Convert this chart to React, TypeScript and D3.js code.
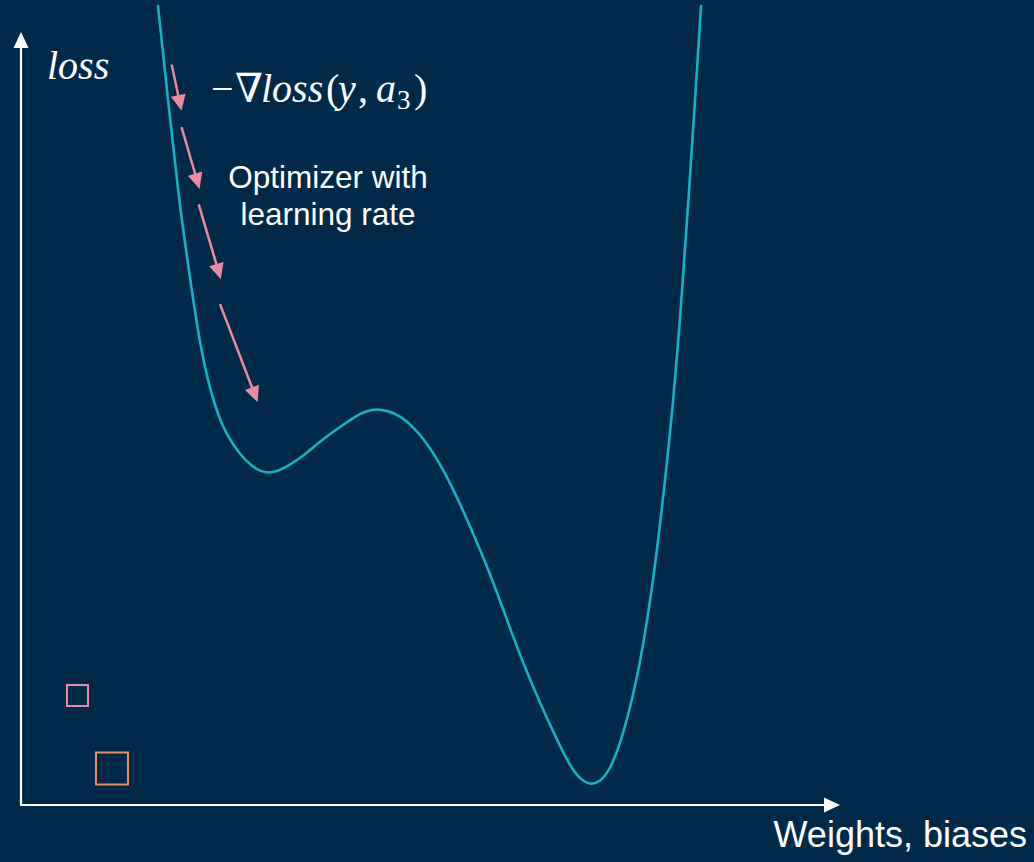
import React from "react";
import * as d3 from "d3";

// Loss landscape curve (weight units 0..100, loss units 0..100)
const curveWeights = [16.73, 17.95, 19.29, 20.15, 21.37, 22.47, 23.81, 25.03, 26.74, 28.33, 29.18, 30.16, 31.26, 32.84, 34.92, 36.87, 38.95, 41.03, 42.25, 43.47, 44.69, 46.28, 48.72, 51.16, 53.24, 55.19, 57.26, 59.34, 61.29, 63.37, 65.45, 67.03, 68.25, 69.48, 70.7, 71.92, 73.5, 75.58, 77.17, 78.39, 79.67, 80.65, 81.5, 82.3, 83.03];
const curveLoss = [103.36, 91.2, 78.27, 71.8, 62.74, 56.27, 51.1, 48.0, 45.28, 43.73, 43.21, 42.95, 43.14, 43.98, 45.54, 47.35, 48.9, 50.45, 51.01, 51.23, 51.01, 50.45, 48.12, 44.24, 39.84, 35.19, 30.01, 23.93, 18.37, 13.2, 8.41, 5.05, 3.36, 2.59, 2.98, 4.53, 8.8, 17.85, 28.72, 39.46, 52.39, 65.33, 78.27, 91.2, 103.36];

// Gradient-descent step arrows: [w0, loss0, w1, loss1]
const stepArrows: [number, number, number, number][] = [
  [18.4, 95.8, 19.6, 89.8],
  [19.6, 87.7, 21.8, 79.7],
  [21.7, 77.7, 24.4, 68.0],
  [24.3, 64.8, 28.9, 52.1],
];

const yLabel = "loss";
const xLabel = "Weights, biases";
const optimizerLines = ["Optimizer with", "learning rate"];

const W = 1034;
const H = 862;
const BG = "#01294a";
const TEAL = "#12b2c3";
const PINK = "#e98aa0";
const ORANGE = "#ef8a64";
const MATH = "'Liberation Serif', 'DejaVu Serif', serif";
const SANS = "'Liberation Sans', Arial, sans-serif";

export default function App() {
  React.useEffect(() => {
    document.body.style.margin = "0";
  }, []);

  const x = d3.scaleLinear().domain([0, 100]).range([21, 840]);
  const y = d3.scaleLinear().domain([0, 100]).range([805, 32]);

  const pts: [number, number][] = curveWeights.map((w, i) => [w, curveLoss[i]]);
  const line = d3
    .line<[number, number]>()
    .x((d) => x(d[0]))
    .y((d) => y(d[1]))
    .curve(d3.curveBasis);

  const headLen = 16;
  const headHalf = 7.5;

  const arrow = (x0: number, y0: number, x1: number, y1: number, key: string, color: string, sw: number) => {
    const dx = x1 - x0;
    const dy = y1 - y0;
    const len = Math.hypot(dx, dy);
    const ux = dx / len;
    const uy = dy / len;
    const bx = x1 - ux * headLen;
    const by = y1 - uy * headLen;
    const px = -uy;
    const py = ux;
    return (
      <g key={key}>
        <line x1={x0} y1={y0} x2={bx + ux * 1} y2={by + uy * 1} stroke={color} strokeWidth={sw} />
        <polygon
          points={`${x1},${y1} ${bx + px * headHalf},${by + py * headHalf} ${bx - px * headHalf},${by - py * headHalf}`}
          fill={color}
        />
      </g>
    );
  };

  return (
    <svg width={W} height={H} style={{ position: "absolute", left: 0, top: 0, display: "block" }}>
      <rect x={0} y={0} width={W} height={H} fill={BG} />

      {/* axes */}
      {arrow(x(0), y(0) + 1, x(0), y(100), "yaxis", "#ffffff", 2.2)}
      {arrow(x(0) - 1, y(0), x(100), y(0), "xaxis", "#ffffff", 2.2)}

      {/* loss curve */}
      <path d={line(pts) ?? ""} fill="none" stroke={TEAL} strokeWidth={2.6} strokeLinecap="round" />

      {/* descent arrows */}
      {stepArrows.map((a, i) => arrow(x(a[0]), y(a[1]), x(a[2]), y(a[3]), `s${i}`, PINK, 2.5))}

      {/* small squares */}
      <rect x={67} y={685} width={21} height={21} fill="none" stroke={PINK} strokeWidth={2} />
      <rect x={96} y={752.5} width={32} height={32} fill="none" stroke={ORANGE} strokeWidth={2} />

      {/* labels */}
      <text x={47} y={79} fill="#fff" fontFamily={MATH} fontStyle="italic" fontSize={40}>
        {yLabel}
      </text>

      <text y={102} fill="#fff" fontFamily={MATH} fontSize={40}>
        <tspan x={211}>−</tspan>
        <tspan x={235}>∇</tspan>
        <tspan x={261} fontStyle="italic">loss</tspan>
        <tspan x={326}>(</tspan>
        <tspan x={338} fontStyle="italic">y</tspan>
        <tspan x={358}>,</tspan>
        <tspan x={376} fontStyle="italic">a</tspan>
        <tspan x={397} dy={7} fontSize={27}>3</tspan>
        <tspan x={414} dy={-7}>)</tspan>
      </text>

      <g fill="#fff" fontFamily={SANS} fontSize={31.5} textAnchor="middle">
        {optimizerLines.map((t, i) => (
          <text key={i} x={328} y={188 + i * 37}>
            {t}
          </text>
        ))}
      </g>

      <text x={1027} y={847} fill="#fff" fontFamily={SANS} fontSize={36} textAnchor="end">
        {xLabel}
      </text>
    </svg>
  );
}
